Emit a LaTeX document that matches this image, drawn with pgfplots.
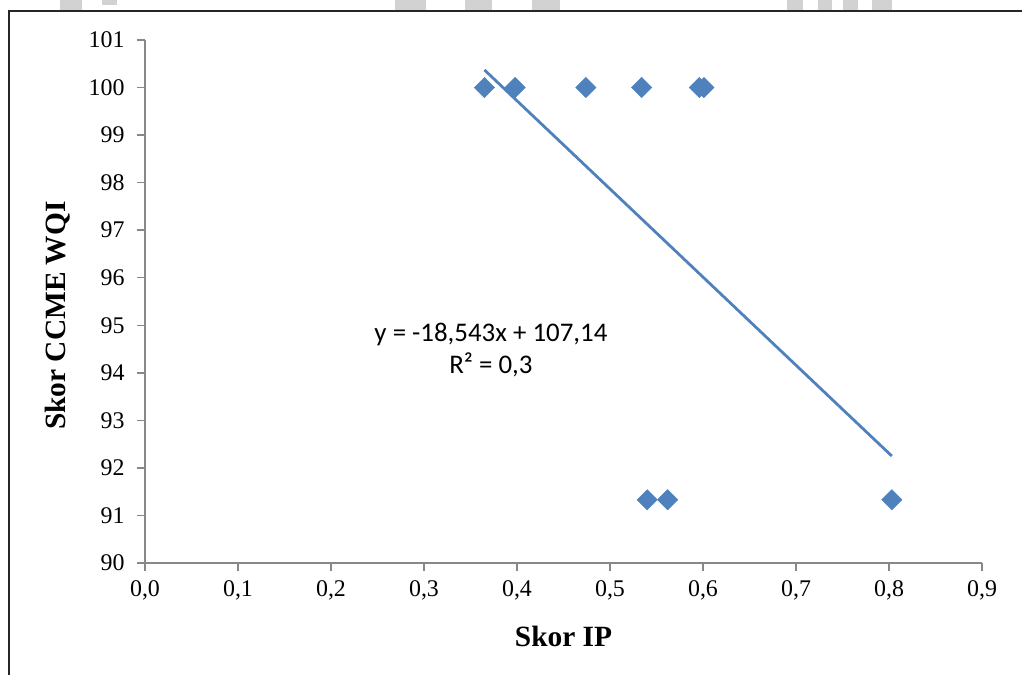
\documentclass[border=0pt]{standalone}
\usepackage{fontspec}
\setmainfont{Liberation Serif}
\newfontfamily\calibri{Carlito}
\usepackage{pgfplots}
\pgfplotsset{compat=1.18}
\definecolor{ser}{HTML}{4F81BD}
\definecolor{axg}{HTML}{888888}
\definecolor{blk}{HTML}{D2D2D2}
\begin{document}
\begin{tikzpicture}[x=1bp,y=1bp]
\useasboundingbox (-145,-112) rectangle (877,563);
% page remnants
\foreach \a/\b/\t in {60/82/10,102/117/5,395/426/10,465/492/10,532/560/10,787/803/10,818/832/10,843/858/10,872/892/10}{
  \fill[blk] (\a-145,563) rectangle (\b-145,563-\t);
}
\draw[line width=2.2bp, black!85] (-136,-113) -- (-136,552) -- (878,552);
\begin{axis}[
  at={(0,0)}, anchor=south west,
  scale only axis, width=837bp, height=523bp,
  xmin=0, xmax=0.9, ymin=90, ymax=101,
  xtick={0,0.1,0.2,0.3,0.4,0.5,0.6,0.7,0.8,0.9},
  xticklabels={{0,0},{0,1},{0,2},{0,3},{0,4},{0,5},{0,6},{0,7},{0,8},{0,9}},
  ytick={90,91,92,93,94,95,96,97,98,99,100,101},
  axis x line=bottom, axis y line=left,
  axis line style={axg, line width=1.4bp, -},
  tick style={axg, line width=1.4bp},
  major tick length=8bp, tick align=outside,
  /pgf/number format/assume math mode=true,
  ticklabel style={font=\fontsize{24}{28}\selectfont, black},
  xticklabel style={yshift=-6bp},
  yticklabel style={xshift=-9bp},
  label style={font=\fontsize{29.5}{34}\selectfont\bfseries},
  xlabel={Skor IP},
  ylabel={Skor CCME WQI},
  xlabel style={at={(axis description cs:0.5,0)}, anchor=center, yshift=-73bp},
  ylabel style={at={(axis description cs:0,0.473)}, anchor=center, yshift=87bp},
  clip=false,
]
\addplot[only marks, mark=square*, mark size=7.2bp, mark options={rotate=45, fill=ser, draw=ser}]
 coordinates {(0.365,100) (0.398,100) (0.474,100) (0.534,100) (0.596,100) (0.601,100)
              (0.540,91.33) (0.562,91.33) (0.803,91.33)};
\addplot[ser, line width=2.8bp, no marks] coordinates {(0.365,100.37) (0.803,92.25)};
\node[font=\calibri\fontsize{27}{33}\selectfont, align=center] at (axis cs:0.372,94.48)
 {y = -18,543x + 107,14\\R² = 0,3};
\end{axis}
\end{tikzpicture}
\end{document}
